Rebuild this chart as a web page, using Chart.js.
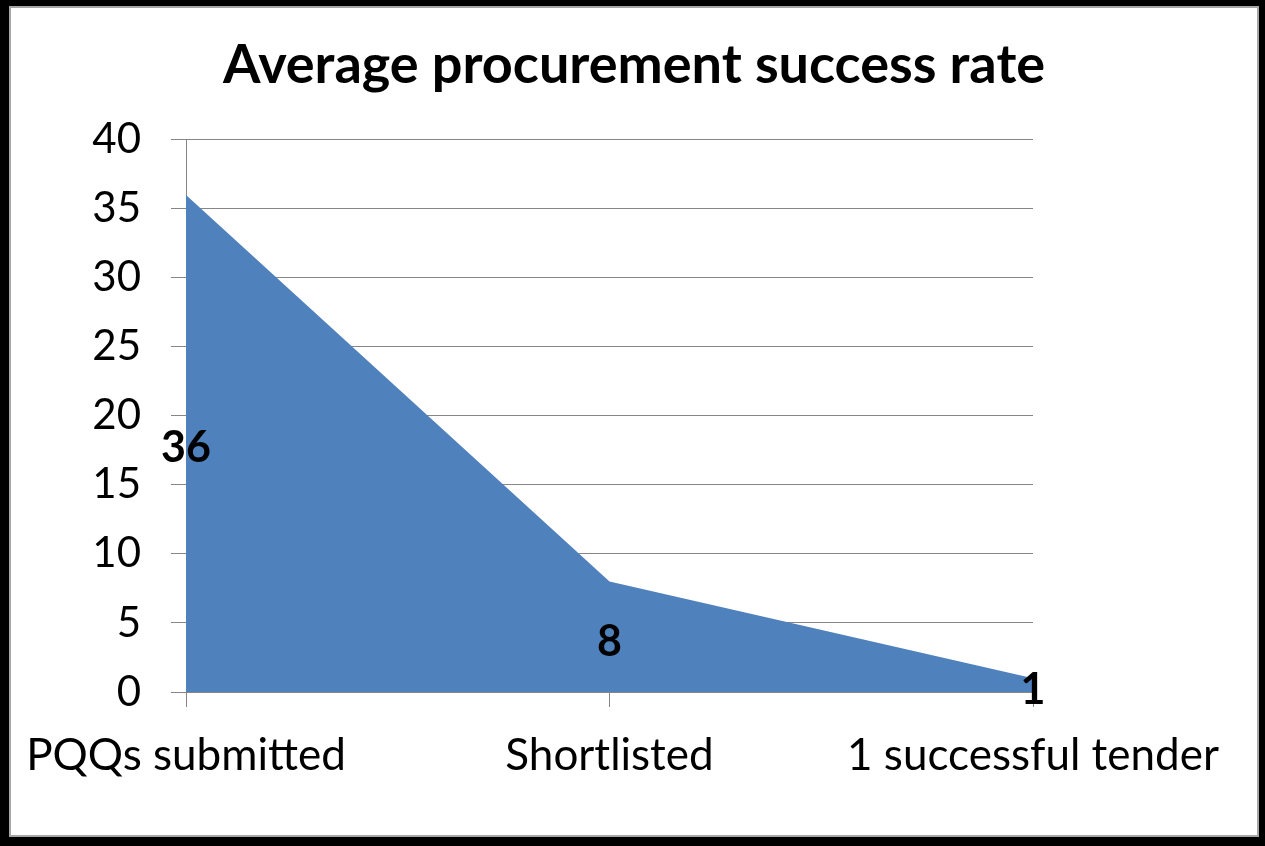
<!DOCTYPE html>
<html>
<head>
<meta charset="utf-8">
<script src="https://cdn.jsdelivr.net/npm/chart.js@4/dist/chart.umd.min.js"></script>
<style>
  html, body { margin: 0; padding: 0; background: #000; }
  #frame {
    position: absolute; left: 9px; top: 6px;
    width: 1250px; height: 831px;
    box-sizing: border-box;
    border: 2px solid #a6a6a6;
    background: #fff;
  }
  #chart { display: block; }
</style>
</head>
<body>
<div id="frame"><canvas id="chart" width="1246" height="827"></canvas></div>
<script>
// values
const categories = ['PQQs submitted', 'Shortlisted', '1 successful tender'];
const counts = [36, 8, 1];
const yTicks = [0, 5, 10, 15, 20, 25, 30, 35, 40];

const fontFamily = 'Lato, "Open Sans", sans-serif';

// Excel-style data labels, placed half way up the area
const areaLabels = {
    id: 'areaLabels',
    afterDatasetsDraw(chart) {
        const ctx = chart.ctx;
        const xs = chart.scales.x;
        const ys = chart.scales.y;
        ctx.save();
        ctx.font = 'bold 43px ' + fontFamily;
        ctx.fillStyle = '#000';
        ctx.textAlign = 'center';
        ctx.textBaseline = 'middle';
        counts.forEach((v, i) => {
            ctx.fillText(String(v), xs.getPixelForValue(i), ys.getPixelForValue(v / 2) + 5);
        });
        ctx.restore();
    }
};

const data = {
    labels: categories,
    datasets: [{
        label: 'Average procurement success rate',
        data: counts,
        fill: 'origin',
        backgroundColor: '#4f81bd',
        borderColor: '#4f81bd',
        borderWidth: 0,
        pointRadius: 0,
        tension: 0
    }]
};

const config = {
    type: 'line',
    data: data,
    plugins: [areaLabels],
    options: {
        responsive: false,
        animation: false,
        layout: { padding: 0 },
        plugins: {
            legend: { display: false },
            tooltip: { enabled: false },
            title: {
                display: true,
                text: 'Average procurement success rate',
                color: '#000',
                font: { family: fontFamily, size: 54, weight: 'bold' },
                padding: { top: 25, bottom: 42 }
            }
        },
        scales: {
            x: {
                offset: false,
                grid: {
                    drawOnChartArea: false,
                    drawTicks: true,
                    tickLength: 15,
                    color: '#868686'
                },
                border: { color: '#868686', width: 1 },
                ticks: {
                    color: '#000',
                    font: { family: fontFamily, size: 44, lineHeight: 1.6 },
                    padding: 14,
                    maxRotation: 0,
                    autoSkip: false
                },
                afterFit(scale) { scale.height = 143; }
            },
            y: {
                min: 0,
                max: 40,
                afterBuildTicks(scale) { scale.ticks = yTicks.map(v => ({ value: v })); },
                grid: {
                    color: '#868686',
                    tickLength: 15
                },
                border: { color: '#868686', width: 1 },
                ticks: {
                    color: '#000',
                    font: { family: fontFamily, size: 42 },
                    padding: 30
                },
                afterFit(scale) { scale.width = 175; }
            },
            // empty right-hand space so the title centres on the whole frame
            gap: {
                type: 'linear',
                position: 'right',
                grid: { display: false },
                border: { display: false },
                ticks: { display: false },
                afterFit(scale) { scale.width = 224; }
            }
        }
    }
};

var chartElem = new Chart(document.getElementById('chart'), config);
</script>
</body>
</html>
